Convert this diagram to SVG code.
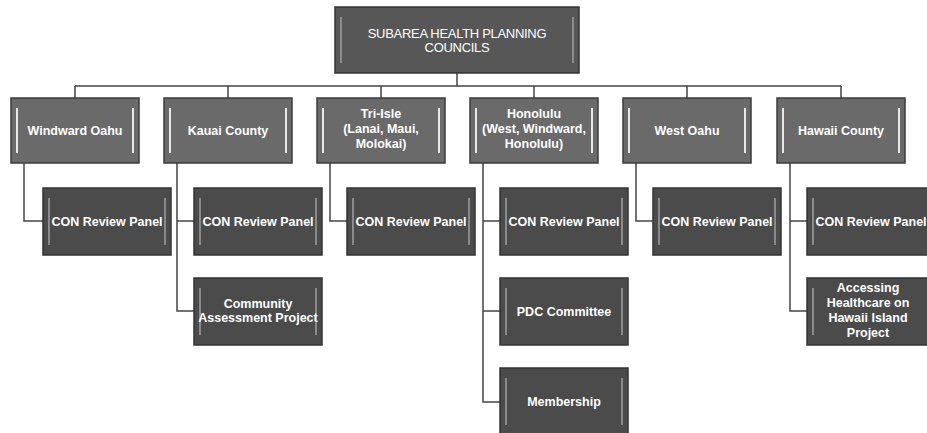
<svg xmlns="http://www.w3.org/2000/svg" width="927" height="433" viewBox="0 0 927 433">
<style>
.b1{fill:#6a6a6a;stroke:#3c3c3c;stroke-width:1.5}
.b2{fill:#4b4b4b;stroke:#333;stroke-width:1.5}
.b0{fill:#575757;stroke:#333;stroke-width:1.5}
.in{stroke:#e8e8e8;stroke-width:2}
.in2{stroke:#a0a0a0;stroke-width:1.5}
.t{fill:#fff;font-family:"Liberation Sans",Arial,sans-serif;font-size:12.5px;font-weight:bold;text-anchor:middle}
.t0{fill:#fff;font-family:"Liberation Sans",Arial,sans-serif;font-size:13px;text-anchor:middle;letter-spacing:-0.3px}
.c{fill:none;stroke:#444;stroke-width:1.5}
</style>
<rect width="927" height="433" fill="#fff"/>
<g id="connectors">
<path class="c" d="M457 73V86M75 86H841M75 86V98M228 86V98M381 86V98M534 86V98M687 86V98M841 86V98"/>
<path class="c" d="M24 163V221H43"/>
<path class="c" d="M177 163V311H194M177 221H194"/>
<path class="c" d="M330 163V221H347"/>
<path class="c" d="M483 163V402H500M483 221H500M483 311H500"/>
<path class="c" d="M636 163V221H653"/>
<path class="c" d="M790 163V311H807M790 221H807"/>
</g>
<g id="top">
<rect class="b0" x="335" y="7" width="244" height="66"/>
<path class="in2" d="M341 17V63M573 17V63"/>
<text class="t0" x="457" y="38">SUBAREA HEALTH PLANNING</text>
<text class="t0" x="457" y="52">COUNCILS</text>
</g>
<g id="windward-oahu">
<rect class="b1" x="11" y="98" width="128" height="65"/>
<path class="in" d="M17 108V153M133 108V153"/>
<text class="t" x="75" y="135">Windward Oahu</text>
</g>
<g id="kauai-county">
<rect class="b1" x="164" y="98" width="128" height="65"/>
<path class="in" d="M170 108V153M286 108V153"/>
<text class="t" x="228" y="135">Kauai County</text>
</g>
<g id="tri-isle">
<rect class="b1" x="317" y="98" width="128" height="65"/>
<path class="in" d="M323 108V153M439 108V153"/>
<text class="t" x="381" y="118">Tri-Isle</text>
<text class="t" x="381" y="133">(Lanai, Maui,</text>
<text class="t" x="381" y="148">Molokai)</text>
</g>
<g id="honolulu">
<rect class="b1" x="470" y="98" width="128" height="65"/>
<path class="in" d="M476 108V153M592 108V153"/>
<text class="t" x="534" y="118">Honolulu</text>
<text class="t" x="534" y="133">(West, Windward,</text>
<text class="t" x="534" y="148">Honolulu)</text>
</g>
<g id="west-oahu">
<rect class="b1" x="623" y="98" width="128" height="65"/>
<path class="in" d="M629 108V153M745 108V153"/>
<text class="t" x="687" y="135">West Oahu</text>
</g>
<g id="hawaii-county">
<rect class="b1" x="777" y="98" width="128" height="65"/>
<path class="in" d="M783 108V153M899 108V153"/>
<text class="t" x="841" y="135">Hawaii County</text>
</g>
<g id="con-windward">
<rect class="b2" x="43" y="188" width="128" height="67"/>
<path class="in2" d="M49 198V245M165 198V245"/>
<text class="t" x="107" y="226">CON Review Panel</text>
</g>
<g id="con-kauai">
<rect class="b2" x="194" y="188" width="128" height="67"/>
<path class="in2" d="M200 198V245M316 198V245"/>
<text class="t" x="258" y="226">CON Review Panel</text>
</g>
<g id="community-assessment">
<rect class="b2" x="194" y="278" width="128" height="67"/>
<path class="in2" d="M200 288V335M316 288V335"/>
<text class="t" x="258" y="308">Community</text>
<text class="t" x="258" y="322">Assessment Project</text>
</g>
<g id="con-tri-isle">
<rect class="b2" x="347" y="188" width="128" height="67"/>
<path class="in2" d="M353 198V245M469 198V245"/>
<text class="t" x="411" y="226">CON Review Panel</text>
</g>
<g id="con-honolulu">
<rect class="b2" x="500" y="188" width="128" height="67"/>
<path class="in2" d="M506 198V245M622 198V245"/>
<text class="t" x="564" y="226">CON Review Panel</text>
</g>
<g id="pdc-committee">
<rect class="b2" x="500" y="278" width="128" height="67"/>
<path class="in2" d="M506 288V335M622 288V335"/>
<text class="t" x="564" y="316">PDC Committee</text>
</g>
<g id="membership">
<rect class="b2" x="500" y="368" width="128" height="67"/>
<path class="in2" d="M506 378V425M622 378V425"/>
<text class="t" x="564" y="406">Membership</text>
</g>
<g id="con-west-oahu">
<rect class="b2" x="653" y="188" width="128" height="67"/>
<path class="in2" d="M659 198V245M775 198V245"/>
<text class="t" x="717" y="226">CON Review Panel</text>
</g>
<g id="con-hawaii">
<rect class="b2" x="807" y="188" width="128" height="67"/>
<path class="in2" d="M813 198V245"/>
<text class="t" x="871" y="226">CON Review Panel</text>
</g>
<g id="accessing-healthcare">
<rect class="b2" x="807" y="278" width="128" height="67"/>
<path class="in2" d="M813 288V335"/>
<text class="t" x="868" y="292">Accessing</text>
<text class="t" x="868" y="307">Healthcare on</text>
<text class="t" x="868" y="322">Hawaii Island</text>
<text class="t" x="868" y="337">Project</text>
</g>
</svg>
